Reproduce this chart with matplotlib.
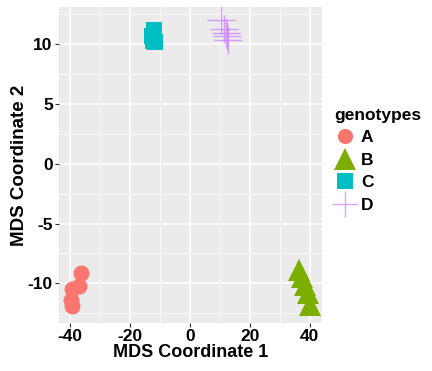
import matplotlib
matplotlib.use("Agg")
import matplotlib.pyplot as plt
from matplotlib.ticker import MultipleLocator

plt.rcParams['font.family'] = ['Liberation Sans', 'DejaVu Sans']
plt.rcParams['font.weight'] = 'bold'
plt.rcParams['axes.unicode_minus'] = False

# MDS coordinates per genotype
genotypes = ["A", "B", "C", "D"]
mds1 = {
    "A": [-36.2, -36.8, -39.3, -39.5, -39.4],
    "B": [36.4, 37.4, 38.4, 39.3, 40.1],
    "C": [-12.0, -12.6, -12.3, -11.6, -12.0],
    "D": [10.4, 11.4, 12.1, 12.4, 12.8],
}
mds2 = {
    "A": [-9.1, -10.2, -10.5, -11.4, -11.9],
    "B": [-8.9, -9.5, -10.1, -10.8, -11.8],
    "C": [11.1, 10.6, 10.2, 10.1, 10.5],
    "D": [12.0, 11.2, 10.9, 10.6, 10.3],
}
colors = {"A": "#F8766D", "B": "#7CAE00", "C": "#00BFC4", "D": "#C77CFF"}
markers = {"A": "o", "B": "^", "C": "s", "D": "+"}
msizes = {"A": 11.5, "B": 16.5, "C": 12.0, "D": 19.5}

fig = plt.figure(figsize=(4.32, 3.71), dpi=100)
ax = fig.add_axes([59 / 432, 1 - 323 / 371, 263 / 432, 316 / 371])
ax.set_facecolor("#EBEBEB")
for s in ax.spines.values():
    s.set_visible(False)

ax.set_xlim(-43.6, 44.1)
ax.set_ylim(-13.3, 13.06)
ax.xaxis.set_major_locator(MultipleLocator(20))
ax.xaxis.set_minor_locator(MultipleLocator(10))
ax.yaxis.set_major_locator(MultipleLocator(5))
ax.yaxis.set_minor_locator(MultipleLocator(2.5))
ax.grid(which="major", color="white", linewidth=1.1)
ax.grid(which="minor", color="white", linewidth=0.5)
ax.set_axisbelow(True)
ax.tick_params(which="major", length=3, width=0.8, color="#333333",
               labelsize=12.5, labelcolor="black", pad=1.5)
ax.tick_params(which="minor", length=0)

handles = []
for g in genotypes:
    if markers[g] == "+":
        h, = ax.plot(mds1[g], mds2[g], linestyle="none", marker="+",
                     markersize=msizes[g], markeredgewidth=1.0,
                     color=colors[g], alpha=0.7, label=g)
    else:
        h, = ax.plot(mds1[g], mds2[g], linestyle="none", marker=markers[g],
                     markersize=msizes[g], markeredgewidth=0,
                     color=colors[g], label=g)
    handles.append(h)

ax.set_xlabel("MDS Coordinate 1", fontsize=13, fontweight="bold", labelpad=0)
ax.set_ylabel("MDS Coordinate 2", fontsize=13.5, fontweight="bold", labelpad=0)

leg = fig.legend(handles=handles, labels=genotypes, loc="upper left",
                 bbox_to_anchor=(334 / 432, 1 - 108 / 371), frameon=False,
                 title="genotypes", alignment="left", fontsize=12.5,
                 title_fontproperties={"weight": "bold", "size": 12.5},
                 handlelength=1.3, handletextpad=0.25, labelspacing=0.42,
                 borderaxespad=0, borderpad=0, markerscale=0.95)

fig.savefig("out.png", dpi=100)
